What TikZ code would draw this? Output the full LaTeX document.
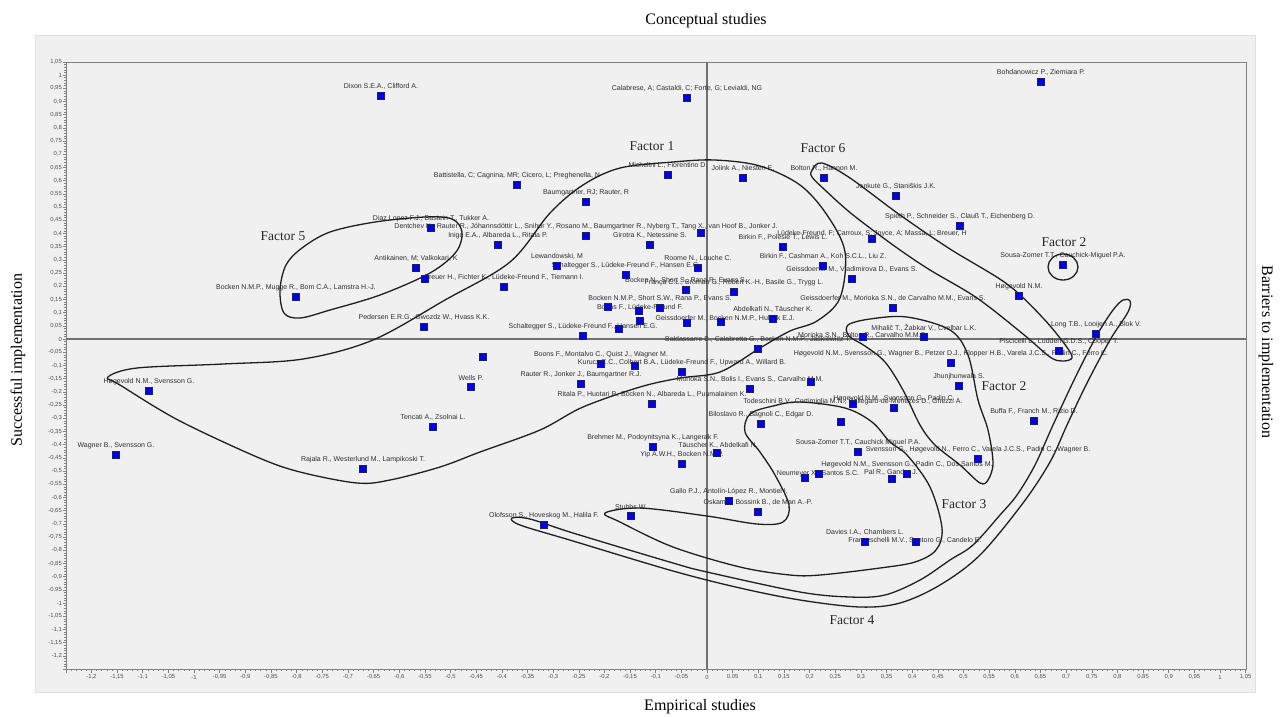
\documentclass[tikz,border=0pt]{standalone}
\usepackage{fontspec}
\setmainfont{Liberation Serif}
\newfontfamily\labfont{Liberation Sans}
\definecolor{panel}{HTML}{F0F0F0}
\definecolor{ptfill}{HTML}{0000F0}
\definecolor{ptedge}{HTML}{20205A}
\definecolor{axisgray}{HTML}{808080}
\definecolor{zerogray}{HTML}{707070}
\definecolor{tickgray}{HTML}{505050}
\definecolor{labgray}{HTML}{2E2E2E}

\tikzset{
  dot/.style={rectangle, draw=ptedge, fill=ptfill, line width=0.6, minimum width=7, minimum height=6.5, inner sep=0},
  author/.style={font=\labfont\fontsize{7}{7.5}\selectfont, text=labgray, inner sep=0},
  factorname/.style={font=\fontsize{13.5}{15}\selectfont, text=black!85, inner sep=0},
  outline/.style={draw=black!88, line width=1.3},
  ticklab/.style={font=\labfont\fontsize{5.9}{6.5}\selectfont, text=tickgray, inner sep=0},
  axistitle/.style={font=\fontsize{16}{18}\selectfont, inner sep=0},
}

% plot frame (pixel units, y downwards)
\def\xL{66}\def\xR{1246}\def\yT{62}\def\yB{669}
\def\xO{707}\def\yO{339}

\def\ticklist{{-1,2},{-1,15},{-1,1},{-1,05},{-1},{-0,95},{-0,9},{-0,85},{-0,8},{-0,75},{-0,7},{-0,65},{-0,6},{-0,55},{-0,5},{-0,45},{-0,4},{-0,35},{-0,3},{-0,25},{-0,2},{-0,15},{-0,1},{-0,05},{0},{0,05},{0,1},{0,15},{0,2},{0,25},{0,3},{0,35},{0,4},{0,45},{0,5},{0,55},{0,6},{0,65},{0,7},{0,75},{0,8},{0,85},{0,9},{0,95},{1},{1,05}}

% publication data: \entry = dot with its label centred above,
% \textat = free label, \dotat = dot without own label
\newcommand\publist{%
\entry{dixon}{381}{96}{Dixon S.E.A., Clifford A.}
\entry{calabrese}{687}{98}{Calabrese, A; Castaldi, C; Forte, G; Levialdi, NG}
\entry{bohdanowicz}{1041}{82}{Bohdanowicz P., Ziemiara P.}
\entry{michelini}{668}{175}{Michelini L., Fiorentino D.}
\entry{jolink}{743}{178}{Jolink A., Niesten E.}
\entry{bolton}{824}{178}{Bolton R., Hannon M.}
\entry{battistella}{517}{185}{Battistella, C; Cagnina, MR; Cicero, L; Preghenella, N}
\entry{baumgartner}{586}{202}{Baumgartner, RJ; Rauter, R}
\entry{jonkute}{896}{196}{Jonkutė G., Staniškis J.K.}
\entry{spieth}{960}{226}{Spieth P., Schneider S., Clauß T., Eichenberg D.}
\entry{diaz}{431}{228}{Diaz Lopez F.J., Bastein T., Tukker A.}
\entry{dentchev}{586}{236}{Dentchev N., Rauter R., Jóhannsdóttir L., Snihur Y., Rosano M., Baumgartner R., Nyberg T., Tang X., van Hoof B., Jonker J.}
\entry{inigo}{498}{245}{Inigo E.A., Albareda L., Ritala P.}
\entry{girotra}{650}{245}{Girotra K., Netessine S.}
\textat{ludeke}{872}{234}{Lüdeke-Freund, F; Carroux, S; Joyce, A; Massa, L; Breuer, H}
\dotat{ludeke}{872}{239}
\entry{birkinA}{783}{247}{Birkin F., Polesie T., Lewis L.}
\entry{antikainen}{416}{268}{Antikainen, M; Valkokari, K}
\entry{lewandowski}{557}{266}{Lewandowski, M}
\entry{birkinB}{823}{266}{Birkin F., Cashman A., Koh S.C.L., Liu Z.}
\entry{roome}{698}{268}{Roome N., Louche C.}
\entry{sousaA}{1063}{265}{Sousa-Zomer T.T., Cauchick-Miguel P.A.}
\entry{schalteggerA}{626}{275}{Schaltegger S., Lüdeke-Freund F., Hansen E.G.}
\entry{geissA}{852}{279}{Geissdoerfer M., Vladimirova D., Evans S.}
\entry{breuer}{504}{287}{Breuer H., Fichter K., Lüdeke-Freund F., Tiemann I.}
\entry{bockenA}{686}{290}{Bocken N., Short S., Rana P., Evans S.}
\entry{franca}{734}{292}{França C.L., Broman G., Robèrt K.-H., Basile G., Trygg L.}
\entry{hogevoldA}{1019}{296}{Høgevold N.M.}
\entry{bockenB}{296}{297}{Bocken N.M.P., Mugge R., Bom C.A., Lamstra H.-J.}
\entry{bockenC}{660}{308}{Bocken N.M.P., Short S.W., Rana P., Evans S.}
\entry{geissB}{893}{308}{Geissdoerfer M., Morioka S.N., de Carvalho M.M., Evans S.}
\textat{boonsA}{640}{307}{Boons F., Lüdeke-Freund F.}
\dotat{boonsA}{639}{311}
\entry{pedersen}{424}{327}{Pedersen E.R.G., Gwozdz W., Hvass K.K.}
\entry{abdelkafi}{773}{319}{Abdelkafi N., Täuscher K.}
\textat{geissC}{725}{318}{Geissdoerfer M., Bocken N.M.P., Hultink E.J.}
\dotat{geissC}{721}{322}
\entry{schalteggerB}{583}{336}{Schaltegger S., Lüdeke-Freund F., Hansen E.G.}
\entry{long}{1096}{334}{Long T.B., Looijen A., Blok V.}
\entry{mihalic}{924}{337}{Mihalič T., Žabkar V., Cvelbar L.K.}
\textat{moriokaA}{863}{335}{Morioka S.N., Bolton R., Carvalho M.M.D.}
\dotat{moriokaA}{863}{337}
\entry{piscicelli}{1059}{351}{Piscicelli L., Ludden G.D.S., Cooper T.}
\entry{baldassarre}{758}{349}{Baldassarre B., Calabretta G., Bocken N.M.P., Jaskiewicz T.}
\entry{hogevoldB}{951}{363}{Høgevold N.M., Svensson G., Wagner B., Petzer D.J., Klopper H.B., Varela J.C.S., Padin C., Ferro C.}
\entry{boonsB}{601}{364}{Boons F., Montalvo C., Quist J., Wagner M.}
\entry{kurucz}{682}{372}{Kurucz E.C., Colbert B.A., Lüdeke-Freund F., Upward A., Willard B.}
\entry{wells}{471}{387}{Wells P.}
\entry{rauter}{581}{384}{Rauter R., Jonker J., Baumgartner R.J.}
\entry{jhunjhunwala}{959}{386}{Jhunjhunwala S.}
\entry{moriokaB}{750}{389}{Morioka S.N., Bolis I., Evans S., Carvalho M.M.}
\entry{hogevoldC}{149}{391}{Høgevold N.M., Svensson G.}
\entry{ritala}{652}{404}{Ritala P., Huotari P., Bocken N., Albareda L., Puumalainen K.}
\entry{hogevoldD}{894}{408}{Høgevold N.M., Svensson G., Padin C.}
\textat{todeschini}{853}{402}{Todeschini B.V., Cortimiglia M.N., Callegaro-de-Menezes D., Ghezzi A.}
\dotat{todeschini}{853}{404}
\entry{buffa}{1034}{421}{Buffa F., Franch M., Rizio D.}
\entry{biloslavo}{761}{424}{Biloslavo R., Bagnoli C., Edgar D.}
\entry{tencati}{433}{427}{Tencati A., Zsolnai L.}
\entry{brehmer}{653}{447}{Brehmer M., Podoynitsyna K., Langerak F.}
\entry{sousaB}{858}{452}{Sousa-Zomer T.T., Cauchick Miguel P.A.}
\textat{tauscher}{718}{445}{Täuscher K., Abdelkafi N.}
\dotat{tauscher}{717}{453}
\entry{svensson}{978}{459}{Svensson G., Høgevold N., Ferro C., Varela J.C.S., Padin C., Wagner B.}
\entry{wagner}{116}{455}{Wagner B., Svensson G.}
\entry{yip}{682}{464}{Yip A.W.H., Bocken N.M.P.}
\entry{rajala}{363}{469}{Rajala R., Westerlund M., Lampikoski T.}
\entry{hogevoldE}{907}{474}{Høgevold N.M., Svensson G., Padin C., Dos Santos M.}
\textat{neumeyer}{818}{474}{Neumeyer X., Santos S.C.}
\dotat{neumeyer}{819}{474}
\textat{pal}{891}{472}{Pal R., Gander J.}
\dotat{pal}{892}{479}
\entry{gallo}{729}{501}{Gallo P.J., Antolín-López R., Montiel I.}
\entry{oskam}{758}{512}{Oskam I., Bossink B., de Man A.-P.}
\entry{stubbs}{631}{516}{Stubbs W.}
\entry{olofsson}{544}{525}{Olofsson S., Hoveskog M., Halila F.}
\entry{davies}{865}{542}{Davies I.A., Chambers L.}
\textat{franceschelli}{915}{540}{Franceschelli M.V., Santoro G., Candelo E.}
\dotat{franceschelli}{916}{542}
\dotat{u1}{701}{233}
\dotat{u2}{425}{279}
\dotat{u3}{608}{307}
\dotat{u4}{640}{321}
\dotat{u5}{619}{329}
\dotat{u6}{687}{323}
\dotat{u8}{483}{357}
\dotat{u9}{635}{366}
\dotat{u10}{811}{382}
\dotat{u11}{841}{422}
\dotat{u12}{805}{478}
}

\begin{document}
\begin{tikzpicture}[x=1pt,y=-1pt]
\useasboundingbox (0,0) rectangle (1281,716);
\fill[white] (0,0) rectangle (1281,716);
\filldraw[fill=panel, draw=black!12] (35,35) rectangle (1255,692);

% titles of the four directions
\node[axistitle] (top) at (706,21) {Conceptual studies};
\node[axistitle] (bottom) at (700,707) {Empirical studies};
\node[axistitle, rotate=90] (left) at (18,360) {Successful implementation};
\node[axistitle, rotate=-90] (right) at (1266,352) {Barriers to implementation};

% frame and ticks
\draw[axisgray, line width=0.8] (\xL,\yT) rectangle (\xR,\yB);
\foreach \m in {-125,...,105}{
  \pgfmathtruncatemacro\r{mod(abs(\m),5)}
  \ifnum\r=0
    \draw[axisgray, line width=0.5] (\xO+5.13*\m,\yB) -- ++(0,3.5);
    \draw[axisgray, line width=0.5] (\xL,\yO-2.64*\m) -- ++(-3.5,0);
  \else
    \draw[axisgray, line width=0.4] (\xO+5.13*\m,\yB) -- ++(0,2);
    \draw[axisgray, line width=0.4] (\xL,\yO-2.64*\m) -- ++(-2,0);
  \fi
}
\foreach \t [count=\k from -24] in \ticklist {
  \node[ticklab] (xt\k) at (\xO+25.65*\k,677) {\t};
  \node[ticklab, anchor=east] (yt\k) at (\xL-4,\yO-13.2*\k) {\t};
}
% origin axes
\draw[zerogray, line width=1.1] (\xL,\yO) -- (\xR,\yO);
\draw[zerogray, line width=1.1] (\xO,\yT) -- (\xO,\yB);

% labels of the publications
\newcommand\entry[4]{\node[author] (#1-t) at (#2,#3-9.5) {#4};}
\newcommand\textat[4]{\node[author] (#1-t) at (#2,#3) {#4};}
\newcommand\dotat[3]{}
\publist

% factor outlines
% Factor 5
\draw[outline] plot[smooth cycle, tension=0.55] coordinates {
 (300,318) (284,313) (280,290) (286,265) (302,248) (330,232) (375,222)
 (425,217) (452,219) (462,232) (456,252) (430,273) (380,295) (330,310)};
% Factor 1
\draw[outline] plot[smooth cycle, tension=0.55] coordinates {
 (108,377) (137,368) (223,364) (303,359) (373,340) (445,300) (510,262)
 (550,213) (583,185) (620,168) (673,162) (715,160) (760,166) (800,185)
 (827,215) (845,252) (840,298) (817,321) (790,331) (760,348) (720,372)
 (680,378) (640,387) (583,407) (540,430) (480,452) (440,467) (390,480)
 (357,483) (300,472) (257,457) (178,420) (120,385)};
% Factor 6
\draw[outline] plot[smooth cycle, tension=0.55] coordinates {
 (812,170) (822,163) (850,178) (900,215) (950,249) (1007,284) (1043,318)
 (1066,346) (1072,358) (1062,361) (1050,357) (1023,334) (977,298)
 (930,270) (900,250) (870,228) (847,210) (825,190) (812,177)};
% Factor 2, small circle
\draw[outline] (1063,267) ellipse [x radius=15, y radius=13];
% Factor 2, lower loop
\draw[outline] plot[smooth cycle, tension=0.55] coordinates {
 (848,325) (870,319) (907,317) (950,330) (968,355) (978,400) (988,430)
 (993,463) (988,480) (980,483) (960,465) (935,445) (920,425) (903,390)
 (885,362) (865,346) (849,336)};
% Factor 3
\draw[outline] plot[smooth cycle, tension=0.55] coordinates {
 (605,513) (640,508) (707,516) (757,524) (783,522) (789,505) (775,475)
 (760,452) (745,432) (750,414) (773,406) (800,402) (845,408) (872,422)
 (890,442) (907,455) (930,487) (942,528) (936,550) (915,562) (880,568)
 (820,575) (790,575) (740,567) (673,547) (620,522)};
% Factor 4
\draw[outline] plot[smooth cycle, tension=0.55] coordinates {
 (512,518) (530,519) (573,533) (673,563) (707,572) (800,592) (850,597)
 (885,595) (920,580) (950,560) (973,545) (1000,515) (1017,495)
 (1035,465) (1053,425) (1075,378) (1097,335) (1113,310) (1123,300)
 (1130,301) (1128,312) (1110,340) (1087,383) (1067,425) (1050,462)
 (1023,503) (980,555) (940,585) (900,603) (860,607) (800,600)
 (740,588) (673,571) (573,541) (520,525)};

% factor names
\node[factorname] (f1) at (652,146) {Factor 1};
\node[factorname] (f6) at (823,148) {Factor 6};
\node[factorname] (f5) at (283,236) {Factor 5};
\node[factorname] (f2a) at (1064,242) {Factor 2};
\node[factorname] (f2b) at (1004,386) {Factor 2};
\node[factorname] (f3) at (964,504) {Factor 3};
\node[factorname] (f4) at (852,620) {Factor 4};

% publication markers
\renewcommand\entry[4]{\node[dot] (#1) at (#2,#3) {};}
\renewcommand\textat[4]{}
\renewcommand\dotat[3]{\node[dot] (#1) at (#2,#3) {};}
\publist
\end{tikzpicture}
\end{document}
